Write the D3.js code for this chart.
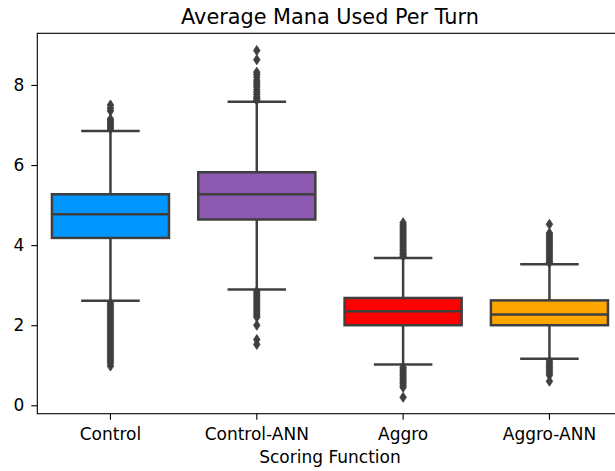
<!DOCTYPE html>
<html>
<head>
<meta charset="utf-8">
<script src="https://cdn.jsdelivr.net/npm/d3@7"></script>
<style>
  html, body { margin: 0; padding: 0; background: #fff; }
  svg { display: block; font-family: "DejaVu Sans", sans-serif; }
</style>
</head>
<body>
<div id="chart"></div>
<script>
// values
const categories = ['Control', 'Control-ANN', 'Aggro', 'Aggro-ANN'];
const q1 = [4.18, 4.64, 2.00, 2.00];
const medians = [4.77, 5.27, 2.35, 2.27];
const q3 = [5.27, 5.82, 2.68, 2.62];
const whiskerLow = [2.61, 2.89, 1.02, 1.16];
const whiskerHigh = [6.85, 7.58, 3.68, 3.52];
const outliers = [
  [6.9, 6.95, 7.0, 7.05, 7.1, 7.15, 7.35, 7.42, 7.5,
   2.55, 2.5, 2.45, 2.4, 2.35, 2.3, 2.25, 2.2, 2.15, 2.1, 2.05, 2.0, 1.95, 1.9, 1.85, 1.8,
   1.75, 1.7, 1.65, 1.6, 1.55, 1.5, 1.45, 1.4, 1.35, 1.3, 1.25, 1.2, 1.15, 1.1, 1.05, 0.98],
  [7.62, 7.66, 7.7, 7.76, 7.82, 7.88, 7.95, 8.0, 8.06, 8.12, 8.2, 8.26, 8.32, 8.63, 8.86,
   2.85, 2.8, 2.75, 2.7, 2.65, 2.6, 2.55, 2.5, 2.45, 2.4, 2.35, 2.3, 2.25, 2.2, 2.0, 1.64, 1.52],
  [3.72, 3.76, 3.8, 3.85, 3.9, 3.95, 4.0, 4.05, 4.1, 4.15, 4.2, 4.25, 4.3, 4.35, 4.4, 4.45, 4.5, 4.56,
   0.95, 0.9, 0.85, 0.8, 0.75, 0.7, 0.65, 0.6, 0.55, 0.5, 0.45, 0.2],
  [3.56, 3.6, 3.65, 3.7, 3.75, 3.8, 3.85, 3.9, 3.95, 4.0, 4.05, 4.1, 4.15, 4.2, 4.25, 4.3, 4.52,
   1.1, 1.05, 1.0, 0.95, 0.9, 0.85, 0.8, 0.75, 0.6]
];
const yTicks = [0, 2, 4, 6, 8];
const palette = ['#0096ff', '#8c59b0', '#ff0000', '#ffa500'];

const width = 615;
const height = 471;
const margin = { top: 33.3, right: -7.6, bottom: 57.3, left: 37.3 };
const lineColor = '#3f3f3f';
const lw = 2.5;

const svg = d3.select('#chart')
  .append('svg')
  .attr('width', width)
  .attr('height', height);

const x = d3.scaleBand()
  .domain(categories)
  .range([margin.left, width - margin.right])
  .padding(0);

const y = d3.scaleLinear()
  .domain([-0.21, 9.29])
  .range([height - margin.bottom, margin.top]);

const boxW = x.bandwidth() * 0.8;
const capW = boxW / 2;
const midX = (x.range()[0] + x.range()[1]) / 2;

const rows = categories.map((c, i) => ({
  cat: c, q1: q1[i], med: medians[i], q3: q3[i],
  lo: whiskerLow[i], hi: whiskerHigh[i], fl: outliers[i], color: palette[i]
}));

const g = svg.selectAll('.box')
  .data(rows)
  .enter()
  .append('g')
  .attr('class', 'box')
  .attr('transform', d => `translate(${x(d.cat) + x.bandwidth() / 2},0)`);

// whiskers
g.append('line')
  .attr('y1', d => y(d.q3)).attr('y2', d => y(d.hi))
  .attr('stroke', lineColor).attr('stroke-width', lw);
g.append('line')
  .attr('y1', d => y(d.q1)).attr('y2', d => y(d.lo))
  .attr('stroke', lineColor).attr('stroke-width', lw);

// caps
['hi', 'lo'].forEach(k => {
  g.append('line')
    .attr('x1', -capW / 2).attr('x2', capW / 2)
    .attr('y1', d => y(d[k])).attr('y2', d => y(d[k]))
    .attr('stroke', lineColor).attr('stroke-width', lw);
});

// boxes
g.append('rect')
  .attr('x', -boxW / 2)
  .attr('width', boxW)
  .attr('y', d => y(d.q3))
  .attr('height', d => y(d.q1) - y(d.q3))
  .attr('fill', d => d.color)
  .attr('stroke', lineColor)
  .attr('stroke-width', lw);

// medians
g.append('line')
  .attr('x1', -boxW / 2).attr('x2', boxW / 2)
  .attr('y1', d => y(d.med)).attr('y2', d => y(d.med))
  .attr('stroke', lineColor).attr('stroke-width', lw);

// fliers (thin diamonds)
const diamond = 'M0,-5L3.3,0L0,5L-3.3,0Z';
g.selectAll('.flier')
  .data(d => d.fl)
  .enter()
  .append('path')
  .attr('class', 'flier')
  .attr('d', diamond)
  .attr('transform', v => `translate(0,${y(v)})`)
  .attr('fill', lineColor)
  .attr('stroke', lineColor)
  .attr('stroke-width', 0.8);

// frame
const plotRight = width - margin.right;
svg.append('rect')
  .attr('x', margin.left)
  .attr('y', margin.top)
  .attr('width', plotRight - margin.left)
  .attr('height', y.range()[0] - margin.top)
  .attr('fill', 'none')
  .attr('stroke', '#000')
  .attr('stroke-width', 1.1);

// axes
const xAxis = svg.append('g')
  .attr('transform', `translate(0,${y.range()[0]})`)
  .call(d3.axisBottom(x).tickSize(6).tickPadding(6));
const yAxis = svg.append('g')
  .attr('transform', `translate(${margin.left},0)`)
  .call(d3.axisLeft(y).tickValues(yTicks).tickSize(6).tickPadding(7).tickFormat(d3.format('d')));

[xAxis, yAxis].forEach(a => {
  a.select('.domain').remove();
  a.selectAll('.tick line').attr('stroke', '#000').attr('stroke-width', 1.1);
  a.selectAll('.tick text')
    .attr('fill', '#000')
    .style('font-family', '"DejaVu Sans", sans-serif')
    .style('font-size', '17px');
});
xAxis.selectAll('.tick text').attr('dy', null).attr('y', 26);

svg.append('text')
  .attr('x', midX)
  .attr('y', 24)
  .attr('text-anchor', 'middle')
  .style('font-size', '20.8px')
  .text('Average Mana Used Per Turn');

svg.append('text')
  .attr('x', midX)
  .attr('y', 463)
  .attr('text-anchor', 'middle')
  .style('font-size', '17px')
  .text('Scoring Function');
</script>
</body>
</html>
